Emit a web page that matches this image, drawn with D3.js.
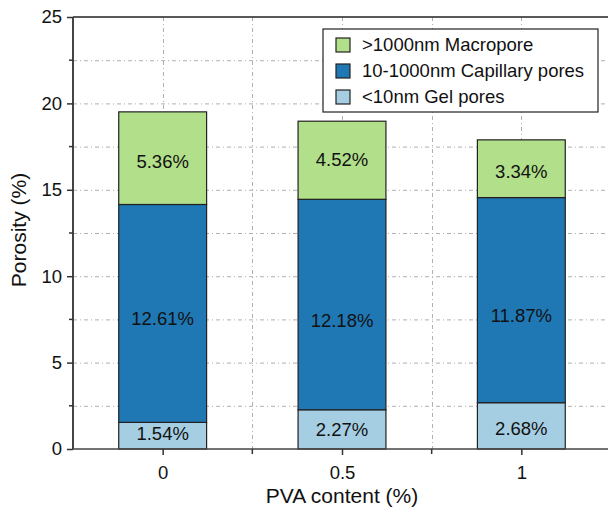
<!DOCTYPE html>
<html>
<head>
<meta charset="utf-8">
<script src="https://cdn.jsdelivr.net/npm/d3@7"></script>
<style>
  html, body { margin: 0; padding: 0; background: #fff; }
  svg { display: block; font-family: "Liberation Sans", Arial, sans-serif; }
</style>
</head>
<body>
<svg id="chart" width="608" height="512"></svg>
<script>
// PVA content groups on the x axis
const categories = [0, 0.5, 1];
const categoryLabels = ["0", "0.5", "1"];
// Pore volume fractions (%) stacked bottom to top
const gelPores = [1.54, 2.27, 2.68];
const capillaryPores = [12.61, 12.18, 11.87];
const macroPores = [5.36, 4.52, 3.34];
const seriesNames = ["<10nm Gel pores", "10-1000nm Capillary pores", ">1000nm Macropore"];
const seriesColors = ["#a6cee3", "#1f78b4", "#b2df8a"];
const yTicks = [0, 5, 10, 15, 20, 25];
const yMinorTicks = [2.5, 7.5, 12.5, 17.5, 22.5];
const xMinorTicks = [0.25, 0.75];

// vertical nudges (px) for the in-bar value labels, per layer then per bar
const labelNudge = [[-2, 1, 3], [6, 17, 16], [4, 0, 3]];

const FONT = "Liberation Sans, Arial, sans-serif";
const svg = d3.select("#chart");

const x = d3.scaleLinear().domain([-0.25, 1.25]).range([73, 611]);
const y = d3.scaleLinear().domain([0, 25]).range([449, 17]);
const barWidth = x(0.245) - x(0);

// grid
const grid = svg.append("g").attr("stroke", "#b0b0b0").attr("stroke-width", 1)
  .attr("stroke-dasharray", "4,3,1,3");
yTicks.concat(yMinorTicks).filter(v => v > 0 && v < 25).forEach(v => {
  grid.append("line").attr("x1", x(-0.25)).attr("x2", x(1.25))
    .attr("y1", y(v) + 0.5).attr("y2", y(v) + 0.5);
});
categories.concat(xMinorTicks).forEach(v => {
  grid.append("line").attr("x1", Math.round(x(v)) + 0.5).attr("x2", Math.round(x(v)) + 0.5)
    .attr("y1", y(25)).attr("y2", y(0));
});

// stacked bars
const table = categories.map((c, i) => ({ cat: c, gel: gelPores[i], cap: capillaryPores[i], macro: macroPores[i] }));
const stack = d3.stack().keys(["gel", "cap", "macro"]);
const layers = stack(table);
layers.forEach((layer, li) => {
  const g = svg.append("g");
  layer.forEach((d, i) => {
    const x0 = x(d.data.cat) - barWidth / 2;
    g.append("rect")
      .attr("x", x0).attr("y", y(d[1]))
      .attr("width", barWidth).attr("height", y(d[0]) - y(d[1]))
      .attr("fill", seriesColors[li])
      .attr("stroke", "#222").attr("stroke-width", 1.2);
    const v = d[1] - d[0];
    g.append("text")
      .attr("x", x(d.data.cat)).attr("y", (y(d[0]) + y(d[1])) / 2 + 1 + labelNudge[li][i])
      .attr("text-anchor", "middle").attr("dominant-baseline", "middle")
      .attr("font-size", 18.5).attr("fill", "#111")
      .text(v.toFixed(2) + "%");
  });
});

// frame top
svg.append("line").attr("x1", x(-0.25)).attr("x2", 608).attr("y1", y(25)).attr("y2", y(25))
  .attr("stroke", "#222").attr("stroke-width", 1.5);

// y axis
const yAxis = svg.append("g").attr("transform", `translate(${x(-0.25)},0)`)
  .call(d3.axisLeft(y).tickValues(yTicks).tickSize(6).tickPadding(5).tickFormat(d3.format("d")));
yAxis.selectAll(".tick line").attr("stroke", "#333").attr("stroke-width", 1.5);
yAxis.select(".domain").attr("stroke", "#444").attr("stroke-width", 2).attr("d", `M0,${y(0)}V${y(25)}`);
yAxis.selectAll("text").attr("font-size", 18.5).attr("fill", "#111").attr("font-family", FONT);
yMinorTicks.forEach(v => {
  svg.append("line").attr("x1", x(-0.25) - 4).attr("x2", x(-0.25))
    .attr("y1", y(v)).attr("y2", y(v)).attr("stroke", "#333").attr("stroke-width", 1.5);
});

// x axis
const xAxis = svg.append("g").attr("transform", `translate(0,${y(0)})`)
  .call(d3.axisBottom(x).tickValues(categories).tickSize(6).tickPadding(11)
    .tickFormat((d, i) => categoryLabels[i]));
xAxis.select(".domain").attr("stroke", "#444").attr("stroke-width", 1.5).attr("d", `M${x(-0.25)},0H608`);
xAxis.selectAll(".tick line").attr("stroke", "#333").attr("stroke-width", 1.5);
xAxis.selectAll("text").attr("font-size", 18.5).attr("fill", "#111").attr("font-family", FONT);
xMinorTicks.forEach(v => {
  svg.append("line").attr("x1", x(v)).attr("x2", x(v))
    .attr("y1", y(0)).attr("y2", y(0) + 5).attr("stroke", "#333").attr("stroke-width", 1.5);
});

// axis titles
svg.append("text").attr("x", x(0.5)).attr("y", 503).attr("text-anchor", "middle")
  .attr("font-size", 21).attr("fill", "#111").text("PVA content (%)");
svg.append("text").attr("transform", `translate(26,${(y(0) + y(25)) / 2 - 3}) rotate(-90)`)
  .attr("text-anchor", "middle").attr("font-size", 21).attr("fill", "#111").text("Porosity (%)");

// legend
const lg = svg.append("g").attr("transform", "translate(323,29)");
lg.append("rect").attr("x", 0).attr("y", 0).attr("width", 275).attr("height", 83)
  .attr("fill", "#fff").attr("stroke", "#222").attr("stroke-width", 1.2);
[2, 1, 0].forEach((si, row) => {
  const cy = 16 + row * 26;
  lg.append("rect").attr("x", 13).attr("y", cy - 7).attr("width", 14).attr("height", 14)
    .attr("fill", seriesColors[si]).attr("stroke", "#222").attr("stroke-width", 1.2);
  lg.append("text").attr("x", 39).attr("y", cy + 1).attr("dominant-baseline", "middle")
    .attr("font-size", 18.5).attr("fill", "#111").text(seriesNames[si]);
});
</script>
</body>
</html>
